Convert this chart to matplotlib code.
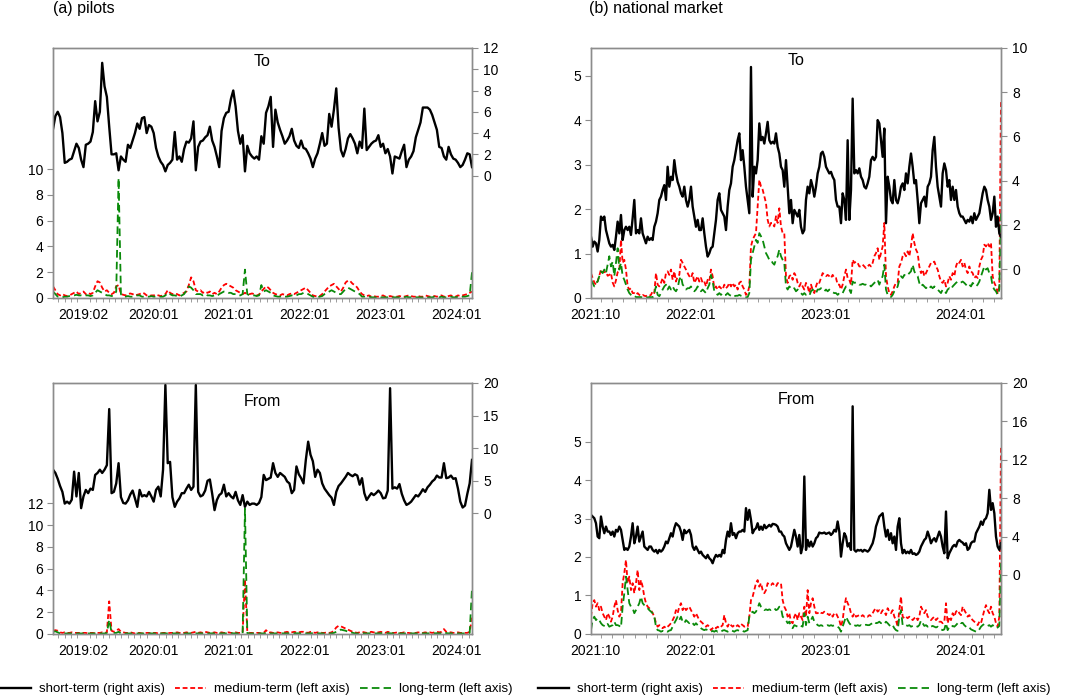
import matplotlib.pyplot as plt
import numpy as np
from matplotlib.lines import Line2D
from matplotlib.ticker import MultipleLocator

plt.rcParams["font.family"] = ["Liberation Sans", "DejaVu Sans"]
plt.rcParams["lines.scale_dashes"] = False

FRAME = "#8c8c8c"
RED = "#ff0000"
GREEN = "#0a8a0a"

# first / last observation, decimal years
pilots_span = (2018.68, 2024.21)
national_span = (2021.26, 2024.30)

pilots_xticks = [2019 + 1 / 12, 2020, 2021, 2022, 2023, 2024]
pilots_xlabels = ["2019:02", "2020:01", "2021:01", "2022:01", "2023:01", "2024:01"]
national_xticks = [2021.29, 2022, 2023, 2024]
national_xlabels = ["2021:10", "2022:01", "2023:01", "2024:01"]

# ---- (a) pilots, To ----
pilots_to_short = [
    4.4, 5.6, 6.0, 5.5, 4.0, 1.2, 1.3, 1.5, 1.6, 2.3,
    3.0, 2.6, 1.5, 0.8, 2.9, 3.0, 3.2, 4.1, 7.0, 5.1,
    6.0, 10.6, 8.4, 7.4, 4.6, 2.0, 2.0, 2.1, 0.5, 1.8,
    1.5, 1.3, 2.9, 2.6, 3.3, 4.0, 4.9, 4.4, 5.4, 5.5,
    4.0, 4.75, 4.6, 4.0, 2.6, 1.8, 1.3, 1.0, 0.4, 1.0,
    1.2, 1.5, 4.1, 1.5, 1.8, 1.3, 2.5, 3.2, 3.1, 3.5,
    5.1, 0.5, 2.7, 3.2, 3.3, 3.6, 3.8, 4.6, 3.3, 2.7,
    1.8, 0.8, 4.2, 5.4, 5.9, 6.0, 7.2, 8.0, 6.5, 4.2,
    3.0, 3.8, 0.4, 2.8, 2.1, 1.8, 1.6, 1.8, 1.5, 3.7,
    3.0, 5.9, 6.5, 7.4, 2.7, 6.2, 5.0, 4.3, 3.7, 3.0,
    3.3, 3.7, 4.4, 3.3, 2.8, 2.6, 3.3, 2.6, 2.5, 2.1,
    1.6, 0.8, 1.6, 2.1, 3.0, 4.0, 2.8, 3.0, 5.8, 4.6,
    6.2, 8.2, 4.5, 2.4, 1.8, 2.5, 3.5, 3.9, 3.5, 3.0,
    2.1, 3.2, 2.6, 6.3, 2.4, 2.7, 3.0, 3.2, 3.3, 3.8,
    2.7, 3.0, 2.1, 2.5, 1.8, 0.2, 1.8, 1.7, 1.6, 2.3,
    2.9, 0.8, 1.5, 1.8, 2.3, 3.6, 4.3, 5.0, 6.4, 6.4,
    6.4, 6.2, 5.7, 5.0, 4.3, 2.7, 2.6, 1.8, 1.5, 2.7,
    2.0, 1.6, 1.5, 1.2, 0.8, 1.0, 1.5, 2.1, 2.0, 0.8,
]
pilots_to_medium = [
    0.9, 0.6, 0.3, 0.2, 0.3, 0.2, 0.15, 0.2, 0.3, 0.4,
    0.5, 0.3, 0.4, 0.5, 0.3, 0.4, 0.3, 0.4, 0.9, 1.3,
    1.2, 0.8, 0.5, 0.6, 0.4, 0.3, 0.4, 0.9, 1.0, 0.3,
    0.25, 0.2, 0.3, 0.35, 0.3, 0.2, 0.25, 0.3, 0.4, 0.35,
    0.2, 0.15, 0.2, 0.2, 0.25, 0.2, 0.15, 0.2, 0.3, 0.6,
    0.4, 0.3, 0.35, 0.3, 0.2, 0.3, 0.4, 0.5, 1.0, 1.6,
    1.3, 0.6, 0.5, 0.6, 0.4, 0.5, 0.4, 0.5, 0.3, 0.4,
    0.3, 0.5, 0.8, 1.0, 1.1, 1.0, 0.9, 0.8, 0.6, 0.5,
    0.4, 0.3, 0.4, 0.3, 0.3, 0.35, 0.3, 0.2, 0.25, 0.5,
    0.7, 0.9, 0.8, 0.6, 0.4, 0.3, 0.25, 0.2, 0.3, 0.25,
    0.2, 0.3, 0.35, 0.3, 0.4, 0.5, 0.6, 0.7, 0.8, 0.6,
    0.4, 0.2, 0.15, 0.1, 0.15, 0.3, 0.5, 0.7, 0.9, 1.0,
    1.1, 0.9, 0.7, 0.5, 0.8, 1.2, 1.35, 1.3, 1.1, 1.0,
    0.8, 0.5, 0.3, 0.2, 0.15, 0.2, 0.1, 0.15, 0.1, 0.1,
    0.15, 0.2, 0.1, 0.1, 0.15, 0.1, 0.1, 0.1, 0.15, 0.1,
    0.1, 0.15, 0.2, 0.15, 0.1, 0.1, 0.15, 0.1, 0.1, 0.2,
    0.15, 0.1, 0.1, 0.15, 0.1, 0.15, 0.2, 0.1, 0.1, 0.15,
    0.2, 0.1, 0.1, 0.2, 0.15, 0.2, 0.25, 0.3, 0.4, 0.5,
]
pilots_to_long = [
    0.5, 0.3, 0.1, 0.1, 0.05, 0.1, 0.1, 0.15, 0.2, 0.2,
    0.25, 0.2, 0.2, 0.15, 0.2, 0.2, 0.15, 0.2, 0.4, 0.6,
    0.5, 0.4, 0.3, 0.2, 0.2, 0.15, 0.2, 0.5, 9.3, 0.3,
    0.1, 0.1, 0.15, 0.1, 0.1, 0.15, 0.2, 0.2, 0.1, 0.1,
    0.1, 0.1, 0.15, 0.1, 0.1, 0.1, 0.1, 0.1, 0.2, 0.4,
    0.3, 0.2, 0.2, 0.15, 0.1, 0.2, 0.3, 0.6, 0.9, 0.8,
    0.6, 0.3, 0.3, 0.3, 0.2, 0.3, 0.2, 0.2, 0.15, 0.2,
    0.15, 0.3, 0.4, 0.5, 0.5, 0.4, 0.4, 0.3, 0.3, 0.2,
    0.2, 0.3, 2.2, 0.3, 0.2, 0.2, 0.2, 0.15, 0.2, 1.0,
    0.5, 0.6, 0.5, 0.4, 0.2, 0.15, 0.1, 0.1, 0.15, 0.1,
    0.1, 0.15, 0.2, 0.15, 0.2, 0.3, 0.3, 0.4, 0.4, 0.3,
    0.2, 0.1, 0.05, 0.05, 0.1, 0.15, 0.3, 0.4, 0.5, 0.6,
    0.5, 0.4, 0.3, 0.3, 0.5, 0.7, 0.8, 0.7, 0.6, 0.5,
    0.4, 0.3, 0.1, 0.1, 0.05, 0.1, 0.05, 0.05, 0.05, 0.1,
    0.05, 0.05, 0.05, 0.05, 0.1, 0.05, 0.05, 0.05, 0.05, 0.05,
    0.05, 0.1, 0.05, 0.05, 0.05, 0.05, 0.05, 0.05, 0.05, 0.1,
    0.05, 0.05, 0.05, 0.1, 0.05, 0.05, 0.1, 0.05, 0.05, 0.05,
    0.1, 0.05, 0.05, 0.1, 0.05, 0.1, 0.1, 0.15, 0.2, 2.0,
]

# ---- (a) pilots, From ----
pilots_from_short = [
    6.7, 6.2, 5.3, 4.2, 3.3, 1.5, 1.8, 1.5, 2.1, 6.4,
    2.6, 6.2, 0.8, 2.6, 3.6, 3.1, 3.8, 3.6, 5.9, 6.2,
    6.7, 6.2, 6.7, 7.4, 16.0, 3.1, 3.3, 4.6, 7.7, 2.5,
    1.6, 1.5, 2.0, 2.9, 3.5, 2.3, 1.0, 3.6, 2.6, 2.8,
    2.6, 3.3, 2.6, 1.8, 3.6, 4.1, 2.6, 6.7, 19.7, 7.7,
    7.9, 2.5, 1.0, 1.8, 2.3, 3.1, 3.1, 3.8, 4.4, 3.6,
    4.1, 19.7, 3.3, 2.6, 2.8, 3.5, 5.0, 5.2, 3.0, 0.5,
    2.05, 2.8, 3.1, 4.4, 2.6, 3.1, 2.6, 2.3, 3.3, 2.0,
    1.3, 2.8, 1.0, 1.8, 1.3, 1.5, 1.5, 1.3, 1.6, 2.5,
    5.9, 5.1, 5.3, 5.5, 7.7, 6.2, 5.6, 6.2, 5.9, 5.6,
    4.9, 4.6, 3.1, 3.6, 7.2, 6.0, 5.4, 4.6, 8.2, 11.0,
    9.0, 8.0, 5.6, 6.7, 6.2, 4.6, 3.8, 3.3, 2.8, 2.4,
    1.3, 3.3, 4.2, 4.6, 5.1, 5.6, 6.2, 5.9, 5.7, 6.0,
    5.8, 4.4, 5.4, 3.1, 2.05, 2.6, 3.1, 2.8, 3.1, 3.5,
    3.1, 2.3, 2.4, 3.5, 19.2, 3.8, 4.0, 3.8, 4.5, 3.0,
    2.0, 1.3, 1.5, 1.8, 2.3, 2.8, 2.6, 3.1, 3.7, 3.3,
    4.0, 4.4, 4.9, 5.2, 5.8, 5.5, 5.5, 7.7, 5.4, 5.5,
    5.8, 5.3, 5.4, 3.8, 1.8, 0.9, 1.2, 3.0, 4.6, 8.2,
]
pilots_from_medium = [
    0.3, 0.35, 0.3, 0.15, 0.1, 0.15, 0.1, 0.1, 0.15, 0.1,
    0.1, 0.1, 0.05, 0.1, 0.1, 0.05, 0.1, 0.1, 0.05, 0.1,
    0.1, 0.15, 0.1, 0.15, 3.0, 0.3, 0.2, 0.3, 0.45, 0.2,
    0.15, 0.1, 0.1, 0.15, 0.1, 0.05, 0.1, 0.1, 0.05, 0.05,
    0.1, 0.1, 0.05, 0.1, 0.1, 0.05, 0.05, 0.1, 0.1, 0.05,
    0.1, 0.1, 0.1, 0.15, 0.1, 0.05, 0.1, 0.15, 0.1, 0.1,
    0.15, 0.2, 0.1, 0.15, 0.1, 0.2, 0.15, 0.1, 0.1, 0.15,
    0.1, 0.1, 0.15, 0.1, 0.1, 0.15, 0.1, 0.1, 0.15, 0.1,
    0.1, 0.15, 5.0, 0.2, 0.1, 0.1, 0.05, 0.1, 0.1, 0.05,
    0.1, 0.35, 0.1, 0.15, 0.1, 0.1, 0.15, 0.1, 0.1, 0.15,
    0.2, 0.1, 0.15, 0.2, 0.15, 0.15, 0.2, 0.2, 0.15, 0.1,
    0.2, 0.15, 0.1, 0.15, 0.15, 0.1, 0.1, 0.15, 0.1, 0.15,
    0.3, 0.6, 0.75, 0.7, 0.6, 0.5, 0.4, 0.3, 0.2, 0.15,
    0.1, 0.15, 0.2, 0.15, 0.1, 0.15, 0.2, 0.15, 0.1, 0.15,
    0.2, 0.15, 0.1, 0.2, 0.15, 0.1, 0.1, 0.15, 0.1, 0.1,
    0.15, 0.1, 0.1, 0.05, 0.1, 0.1, 0.15, 0.1, 0.1, 0.15,
    0.1, 0.15, 0.1, 0.15, 0.2, 0.15, 0.2, 0.45, 0.2, 0.15,
    0.15, 0.1, 0.1, 0.15, 0.1, 0.1, 0.1, 0.1, 0.2, 1.5,
]
pilots_from_long = [
    0.2, 0.25, 0.15, 0.05, 0.05, 0.05, 0.05, 0.05, 0.05, 0.05,
    0.05, 0.05, 0.04, 0.05, 0.05, 0.04, 0.05, 0.05, 0.04, 0.05,
    0.05, 0.05, 0.05, 0.1, 1.3, 0.15, 0.1, 0.1, 0.2, 0.05,
    0.05, 0.04, 0.05, 0.05, 0.04, 0.05, 0.05, 0.04, 0.05, 0.05,
    0.04, 0.05, 0.05, 0.04, 0.05, 0.05, 0.04, 0.05, 0.05, 0.04,
    0.05, 0.05, 0.04, 0.05, 0.05, 0.04, 0.05, 0.05, 0.05, 0.05,
    0.05, 0.06, 0.05, 0.05, 0.05, 0.06, 0.05, 0.05, 0.05, 0.05,
    0.05, 0.05, 0.05, 0.05, 0.04, 0.05, 0.05, 0.05, 0.05, 0.05,
    0.05, 0.06, 11.5, 0.08, 0.05, 0.05, 0.04, 0.05, 0.05, 0.04,
    0.05, 0.1, 0.05, 0.05, 0.05, 0.05, 0.06, 0.05, 0.05, 0.06,
    0.06, 0.05, 0.06, 0.07, 0.06, 0.06, 0.07, 0.07, 0.06, 0.05,
    0.07, 0.06, 0.05, 0.06, 0.06, 0.05, 0.05, 0.06, 0.05, 0.06,
    0.1, 0.2, 0.35, 0.4, 0.35, 0.3, 0.2, 0.15, 0.1, 0.06,
    0.05, 0.06, 0.07, 0.06, 0.05, 0.06, 0.07, 0.06, 0.05, 0.06,
    0.07, 0.06, 0.05, 0.07, 0.06, 0.05, 0.05, 0.06, 0.05, 0.05,
    0.05, 0.05, 0.04, 0.04, 0.05, 0.05, 0.05, 0.05, 0.05, 0.06,
    0.05, 0.06, 0.05, 0.06, 0.07, 0.06, 0.08, 0.15, 0.08, 0.06,
    0.06, 0.05, 0.05, 0.06, 0.05, 0.05, 0.05, 0.05, 0.1, 4.2,
]

# ---- (b) national market, To ----
national_to_short = [
    1.47, 1.02, 1.25, 1.17, 0.8, 1.32, 2.38, 2.23, 2.38, 1.77,
    1.47, 1.17, 1.02, 1.1, 0.87, 1.47, 2.15, 1.62, 2.45, 1.32,
    1.77, 1.92, 1.77, 1.92, 1.55, 2.3, 3.13, 1.62, 1.77, 1.62,
    2.3, 1.62, 1.4, 1.17, 1.47, 1.32, 1.4, 1.32, 1.92, 2.15,
    2.53, 3.13, 3.28, 3.58, 3.8, 3.13, 4.63, 3.73, 4.18, 4.03,
    4.93, 4.33, 3.95, 3.73, 3.43, 3.28, 3.73, 3.13, 2.83, 3.13,
    3.73, 2.83, 2.38, 1.92, 2.23, 1.77, 1.77, 2.3, 1.62, 1.02,
    0.57, 0.72, 0.95, 1.02, 1.62, 2.23, 3.13, 3.43, 2.68, 2.53,
    2.38, 1.77, 2.83, 3.58, 3.88, 4.63, 4.93, 5.38, 5.83, 6.14,
    4.93, 5.38, 4.63, 3.73, 3.13, 2.53, 9.14, 3.28, 4.63, 4.33,
    4.93, 6.59, 5.83, 5.98, 5.68, 6.14, 6.66, 5.83, 5.68, 5.76,
    5.68, 6.14, 5.53, 5.23, 4.63, 4.48, 3.73, 4.93, 3.73, 2.53,
    3.13, 2.08, 2.68, 2.53, 2.38, 2.68, 1.92, 1.62, 1.77, 3.13,
    3.73, 3.43, 4.03, 3.73, 3.28, 3.73, 4.33, 4.63, 5.23, 5.31,
    5.08, 4.63, 4.48, 4.33, 4.4, 4.18, 4.03, 3.13, 2.83, 2.83,
    2.08, 3.43, 3.13, 2.23, 5.83, 2.23, 3.58, 7.71, 4.33, 4.48,
    4.33, 4.56, 4.18, 4.03, 3.73, 3.65, 3.88, 4.18, 4.93, 5.08,
    4.93, 5.08, 6.74, 6.59, 5.83, 5.08, 6.36, 2.08, 4.18, 3.73,
    3.13, 2.98, 4.03, 3.13, 2.98, 3.28, 3.73, 3.88, 3.58, 4.33,
    3.88, 4.63, 5.23, 4.63, 3.88, 4.03, 3.13, 2.08, 2.98, 3.13,
    3.28, 2.83, 3.73, 3.88, 4.18, 5.38, 5.98, 4.63, 3.73, 3.28,
    2.83, 4.33, 4.78, 4.48, 3.73, 4.03, 3.13, 3.73, 3.13, 3.58,
    2.83, 2.53, 2.38, 2.38, 2.23, 2.08, 2.23, 2.15, 2.38, 2.08,
    2.53, 2.23, 2.38, 2.53, 2.98, 3.43, 3.73, 3.58, 3.13, 2.83,
    2.23, 2.53, 3.28, 1.92, 2.38, 1.62, 1.47,
]
national_to_medium = [
    0.56, 0.45, 0.35, 0.3, 0.38, 0.5, 0.64, 0.58, 0.58, 0.6,
    0.5, 0.52, 0.56, 0.35, 0.26, 0.4, 0.58, 0.6, 1.31,
    0.79, 0.86, 0.64, 0.26, 0.19, 0.22, 0.11, 0.11, 0.07, 0.11,
    0.07, 0.05, 0.07, 0.05, 0.04, 0.07, 0.05, 0.07, 0.15, 0.11,
    0.56, 0.3, 0.26, 0.34, 0.45, 0.34, 0.56, 0.6, 0.52, 0.64,
    0.41, 0.6, 0.37, 0.49, 0.52, 0.86, 0.79, 0.71, 0.64, 0.56,
    0.49, 0.45, 0.56, 0.34, 0.41, 0.49, 0.37, 0.45, 0.34, 0.37,
    0.26, 0.41, 0.37, 0.64, 0.49, 0.22, 0.26, 0.19, 0.26, 0.22,
    0.19, 0.3, 0.22, 0.26, 0.34, 0.26, 0.34, 0.26, 0.3, 0.19,
    0.34, 0.37, 0.26, 0.19, 0.07, 0.11, 0.26, 1.16, 1.31, 1.39,
    1.46, 2.06, 2.66, 2.51, 2.44, 2.29, 2.14, 1.76, 1.61, 1.69,
    1.69, 1.61, 1.84, 1.69, 2.02, 1.61, 1.46, 1.46, 0.49, 0.34,
    0.49, 0.52, 0.41, 0.56, 0.49, 0.34, 0.26, 0.34, 0.26, 0.19,
    0.34, 0.26, 0.11, 0.3, 0.19, 0.11, 0.26, 0.37, 0.34, 0.45,
    0.56, 0.52, 0.49, 0.52, 0.49, 0.45, 0.52, 0.45, 0.45, 0.3,
    0.3, 0.19, 0.3, 0.49, 0.64, 0.45, 0.41, 0.3, 0.86, 0.79,
    0.82, 0.79, 0.71, 0.71, 0.75, 0.71, 0.67, 0.71, 0.75, 0.71,
    0.79, 0.94, 1.01, 1.12, 0.86, 1.01, 1.16, 1.69, 0.49, 0.26,
    0.11, 0.07, 0.15, 0.26, 0.34, 0.34, 0.71, 0.79, 0.94, 1.01,
    0.94, 1.05, 0.94, 1.16, 1.46, 1.24, 1.09, 1.01, 0.71, 0.56,
    0.64, 0.49, 0.56, 0.64, 0.71, 0.79, 0.79, 0.82, 0.71, 0.64,
    0.49, 0.37, 0.34, 0.41, 0.26, 0.34, 0.49, 0.41, 0.56, 0.49,
    0.71, 0.82, 0.79, 0.86, 0.71, 0.79, 0.64, 0.56, 0.71, 0.6,
    0.56, 0.45, 0.49, 0.45, 0.71, 0.86, 0.94, 1.2, 1.16, 1.24,
    1.16, 1.24, 0.49, 0.34, 0.26, 0.11, 0.26, 4.46,
]
national_to_long = [
    0.41, 0.34, 0.26, 0.34, 0.37, 0.49, 0.6, 0.56, 0.64, 0.56,
    0.75, 0.94, 0.71, 0.82, 0.49, 0.79, 1.12, 0.64, 0.79, 0.49,
    0.41, 0.3, 0.19, 0.11, 0.07, 0.04, 0.05, 0.02, 0.02, 0.02,
    0.02, 0.01, 0.02, 0.02, 0.01, 0.02, 0.02, 0.01, 0.11, 0.26,
    0.07, 0.04, 0.11, 0.19, 0.26, 0.3, 0.19, 0.26, 0.19, 0.26,
    0.19, 0.15, 0.22, 0.41, 0.49, 0.3, 0.26, 0.19, 0.22, 0.22,
    0.26, 0.19, 0.15, 0.19, 0.26, 0.19, 0.15, 0.19, 0.15, 0.11,
    0.22, 0.3, 0.52, 0.37, 0.15, 0.11, 0.07, 0.11, 0.07, 0.11,
    0.07, 0.07, 0.11, 0.07, 0.05, 0.07, 0.04, 0.05, 0.05, 0.07,
    0.05, 0.04, 0.02, 0.015, 0.02, 0.11, 0.86, 1.01, 1.16, 1.31,
    1.24, 1.46, 1.39, 1.31, 1.16, 1.01, 0.94, 0.86, 0.86, 0.79,
    0.75, 0.86, 0.94, 1.09, 0.94, 0.86, 0.79, 0.26, 0.19, 0.26,
    0.22, 0.19, 0.22, 0.15, 0.19, 0.15, 0.11, 0.07, 0.11, 0.07,
    0.07, 0.05, 0.15, 0.19, 0.15, 0.11, 0.19, 0.19, 0.22, 0.19,
    0.15, 0.19, 0.15, 0.19, 0.15, 0.13, 0.11, 0.11, 0.07, 0.11,
    0.09, 0.11, 0.19, 0.26, 0.22, 0.19, 0.11, 0.37, 0.34, 0.35,
    0.34, 0.3, 0.3, 0.32, 0.3, 0.3, 0.28, 0.3, 0.26, 0.3,
    0.34, 0.37, 0.41, 0.3, 0.41, 0.49, 0.75, 0.19, 0.07, 0.04,
    0.02, 0.07, 0.15, 0.19, 0.26, 0.41, 0.49, 0.45, 0.52, 0.49,
    0.52, 0.56, 0.6, 0.75, 0.6, 0.52, 0.49, 0.34, 0.26, 0.3,
    0.26, 0.22, 0.26, 0.22, 0.26, 0.22, 0.26, 0.22, 0.19, 0.15,
    0.11, 0.19, 0.15, 0.11, 0.19, 0.22, 0.19, 0.26, 0.3, 0.34,
    0.37, 0.34, 0.35, 0.37, 0.34, 0.3, 0.26, 0.3, 0.26, 0.34,
    0.3, 0.26, 0.3, 0.37, 0.49, 0.6, 0.71, 0.64, 0.67, 0.56,
    0.49, 0.26, 0.19, 0.15, 0.07, 0.19, 1.91,
]

# ---- (b) national market, From ----
national_from_short = [
    6.26, 6.09, 5.91, 5.39, 4.0, 3.83, 6.09, 5.04, 4.35, 5.04,
    4.52, 4.52, 4.17, 4.52, 4.0, 4.7, 4.52, 5.04, 4.7, 3.65,
    2.61, 2.78, 2.61, 2.96, 4.0, 5.39, 3.3, 4.0, 5.04, 3.48,
    4.0, 4.52, 2.96, 2.78, 2.61, 2.96, 2.96, 2.61, 2.43, 2.61,
    2.26, 2.61, 2.43, 2.61, 2.96, 3.48, 3.3, 3.83, 4.35, 4.0,
    4.87, 5.39, 5.22, 5.04, 4.52, 3.65, 4.7, 4.35, 4.52, 4.7,
    4.17, 2.96, 2.61, 2.96, 2.61, 2.26, 2.43, 2.09, 1.91, 1.74,
    2.09, 1.74, 1.57, 1.22, 1.74, 2.09, 1.91, 2.09, 1.91, 2.61,
    2.26, 3.65, 4.52, 4.0, 5.39, 4.17, 4.35, 3.83, 4.35, 4.52,
    4.52, 4.7, 4.52, 6.96, 5.74, 6.78, 5.74, 4.35, 4.7, 4.87,
    5.39, 4.7, 5.04, 4.7, 5.22, 4.87, 5.04, 5.22, 5.04, 5.32,
    5.29, 5.22, 5.04, 4.52, 4.52, 4.17, 4.0, 3.3, 2.96, 2.61,
    2.96, 3.83, 4.7, 4.0, 2.96, 4.17, 2.26, 2.96, 10.26, 2.61,
    3.65, 2.96, 3.48, 2.96, 3.3, 3.83, 4.0, 4.42, 4.35, 4.35,
    4.42, 4.28, 4.35, 4.42, 4.17, 4.35, 4.7, 4.52, 5.57, 4.52,
    1.91, 3.3, 4.35, 4.0, 2.96, 3.3, 2.61, 17.57, 2.61, 2.43,
    2.61, 2.54, 2.61, 2.43, 2.61, 2.54, 2.43, 2.61, 2.96, 3.3,
    4.0, 5.04, 5.57, 6.09, 6.26, 6.43, 5.04, 4.0, 4.7, 3.65,
    4.35, 3.3, 4.0, 2.61, 5.04, 5.91, 3.3, 2.26, 2.61, 2.26,
    2.43, 2.26, 2.61, 2.19, 2.26, 2.09, 2.19, 2.43, 2.96, 3.3,
    3.65, 3.83, 4.52, 4.0, 3.3, 3.65, 3.83, 3.48, 4.0, 4.52,
    4.0, 2.96, 2.26, 6.61, 1.74, 2.26, 2.61, 2.96, 3.13, 2.96,
    3.48, 3.65, 3.48, 3.37, 3.13, 3.3, 2.61, 2.78, 3.3, 3.48,
    3.48, 4.35, 4.7, 5.04, 5.57, 5.22, 5.74, 5.91, 6.43, 8.87,
    6.78, 7.48, 6.43, 4.0, 2.96, 2.61, 3.3,
]
national_from_medium = [
    0.45, 0.8, 0.88, 0.71, 0.8, 0.62, 0.71, 0.54, 0.45, 0.36,
    0.54, 0.45, 0.32, 0.45, 0.71, 0.88, 0.62, 0.45, 0.54, 1.32,
    1.58, 1.92, 1.32, 1.49, 1.14, 1.32, 1.06, 1.32, 1.66, 1.14,
    1.4, 1.23, 0.97, 0.8, 0.71, 0.67, 0.62, 0.54, 0.45, 0.28,
    0.19, 0.23, 0.19, 0.15, 0.19, 0.15, 0.19, 0.23, 0.28, 0.36,
    0.45, 0.62, 0.54, 0.71, 0.8, 0.62, 0.71, 0.62, 0.67, 0.71,
    0.62, 0.54, 0.45, 0.54, 0.45, 0.36, 0.32, 0.28, 0.23, 0.19,
    0.23, 0.19, 0.1, 0.15, 0.19, 0.15, 0.19, 0.15, 0.19, 0.23,
    0.49, 0.28, 0.19, 0.28, 0.23, 0.19, 0.23, 0.19, 0.23, 0.19,
    0.26, 0.23, 0.19, 0.21, 0.19, 0.45, 0.88, 0.97, 1.14, 1.32,
    1.4, 1.23, 1.32, 1.14, 1.06, 1.14, 1.32, 1.27, 1.27, 1.32,
    1.27, 1.23, 1.32, 1.32, 1.32, 0.88, 0.71, 0.62, 0.45, 0.54,
    0.32, 0.28, 0.45, 0.54, 0.36, 0.54, 0.45, 0.36, 0.71, 0.45,
    1.14, 0.54, 0.8, 0.93, 0.71, 0.54, 0.54, 0.58, 0.55, 0.54,
    0.58, 0.54, 0.52, 0.49, 0.54, 0.45, 0.54, 0.54, 0.45, 0.36,
    0.19, 0.36, 0.71, 0.93, 0.8, 0.71, 0.54, 0.45, 0.54, 0.45,
    0.47, 0.49, 0.45, 0.49, 0.45, 0.47, 0.45, 0.49, 0.47, 0.54,
    0.62, 0.67, 0.58, 0.62, 0.54, 0.62, 0.58, 0.49, 0.67, 0.58,
    0.54, 0.62, 0.45, 0.36, 0.19, 0.62, 0.97, 0.45, 0.41, 0.45,
    0.41, 0.45, 0.41, 0.36, 0.41, 0.45, 0.36, 0.45, 0.71, 0.62,
    0.54, 0.62, 0.45, 0.41, 0.36, 0.41, 0.45, 0.36, 0.41, 0.32,
    0.32, 0.28, 0.32, 0.8, 0.28, 0.45, 0.36, 0.54, 0.45, 0.58,
    0.62, 0.54, 0.49, 0.71, 0.62, 0.54, 0.45, 0.49, 0.41, 0.36,
    0.32, 0.28, 0.23, 0.32, 0.28, 0.45, 0.62, 0.75, 0.62, 0.54,
    0.71, 0.54, 0.45, 0.28, 0.19, 0.45, 4.87,
]
national_from_long = [
    0.1, 0.36, 0.45, 0.36, 0.41, 0.36, 0.28, 0.23, 0.21, 0.19,
    0.26, 0.19, 0.21, 0.23, 0.32, 0.23, 0.23, 0.21, 0.17, 0.71,
    1.06, 1.49, 1.14, 0.8, 0.71, 0.67, 0.54, 0.62, 0.71, 0.8,
    0.97, 0.8, 0.75, 0.71, 0.67, 0.62, 0.58, 0.54, 0.45, 0.19,
    0.1, 0.09, 0.06, 0.08, 0.06, 0.08, 0.06, 0.09, 0.1, 0.19,
    0.28, 0.36, 0.45, 0.36, 0.45, 0.32, 0.28, 0.36, 0.32, 0.28,
    0.32, 0.28, 0.23, 0.28, 0.23, 0.19, 0.15, 0.12, 0.1, 0.12,
    0.1, 0.09, 0.06, 0.08, 0.06, 0.09, 0.06, 0.08, 0.06, 0.09,
    0.1, 0.08, 0.06, 0.09, 0.1, 0.08, 0.06, 0.09, 0.1, 0.08,
    0.1, 0.08, 0.06, 0.08, 0.1, 0.45, 0.54, 0.58, 0.54, 0.58,
    0.67, 0.8, 0.71, 0.67, 0.62, 0.64, 0.62, 0.64, 0.62, 0.64,
    0.67, 0.62, 0.64, 0.71, 0.67, 0.45, 0.41, 0.36, 0.28, 0.32,
    0.19, 0.15, 0.23, 0.21, 0.19, 0.23, 0.21, 0.19, 0.54, 0.23,
    0.45, 0.28, 0.36, 0.45, 0.32, 0.28, 0.23, 0.21, 0.23, 0.21,
    0.23, 0.21, 0.23, 0.21, 0.23, 0.21, 0.23, 0.21, 0.19, 0.15,
    0.06, 0.19, 0.32, 0.45, 0.36, 0.28, 0.23, 0.21, 0.23, 0.21,
    0.23, 0.21, 0.23, 0.21, 0.23, 0.24, 0.23, 0.23, 0.26, 0.28,
    0.32, 0.28, 0.29, 0.32, 0.28, 0.29, 0.26, 0.32, 0.28, 0.23,
    0.19, 0.23, 0.15, 0.1, 0.08, 0.45, 0.62, 0.23, 0.21, 0.23,
    0.21, 0.23, 0.19, 0.21, 0.23, 0.21, 0.19, 0.23, 0.35, 0.28,
    0.21, 0.23, 0.19, 0.23, 0.19, 0.21, 0.19, 0.17, 0.19, 0.15,
    0.12, 0.1, 0.12, 0.28, 0.1, 0.19, 0.17, 0.21, 0.19, 0.23,
    0.28, 0.32, 0.28, 0.29, 0.23, 0.19, 0.15, 0.17, 0.12, 0.1,
    0.08, 0.06, 0.06, 0.12, 0.19, 0.23, 0.26, 0.23, 0.21, 0.23,
    0.19, 0.23, 0.19, 0.15, 0.17, 0.21, 1.84,
]


def draw_panel(fig, rect, span, short, medium, long_, left_top, left_ticks,
               right_lim, right_ticks, title, title_y, xticks, xlabels):
    ax = fig.add_axes(rect)
    ax.plot(np.linspace(*span, len(medium)), medium, color=RED, lw=1.3,
            dashes=(3.5, 2))
    ax.plot(np.linspace(*span, len(long_)), long_, color=GREEN, lw=1.3,
            dashes=(5.5, 3))
    ax.set_xlim(*span)
    ax.set_ylim(0, left_top)
    ax.set_yticks(left_ticks)
    ax.set_xticks(xticks, xlabels)
    ax.xaxis.set_minor_locator(MultipleLocator(1 / 12))
    ax.tick_params(axis="x", which="major", length=0, pad=7, labelsize=10)
    ax.tick_params(axis="x", which="minor", length=3, color=FRAME)
    ax.tick_params(axis="y", direction="out", length=4, color=FRAME,
                   labelsize=10, pad=3)

    ax2 = ax.twinx()
    ax2.plot(np.linspace(*span, len(short)), short, color="black", lw=1.7)
    ax2.set_ylim(*right_lim)
    ax2.set_yticks(right_ticks)
    ax2.tick_params(axis="y", direction="out", length=4, color=FRAME,
                    labelsize=10, pad=4)
    ax2.set_xlim(*span)

    for a in (ax, ax2):
        for s in a.spines.values():
            s.set_color(FRAME)
            s.set_linewidth(1.0)

    ax2.text(0.5, title_y, title, transform=ax2.transAxes, ha="center",
             va="center", fontsize=11.5)


fig = plt.figure(figsize=(10.65, 6.98), dpi=100)

draw_panel(fig, [0.0498, 0.5731, 0.3934, 0.3582], pilots_span,
           pilots_to_short, pilots_to_medium, pilots_to_long,
           19.4, range(0, 11, 2), (-11.5, 12), range(0, 13, 2),
           "To", 0.944, pilots_xticks, pilots_xlabels)
draw_panel(fig, [0.5549, 0.5731, 0.3850, 0.3582], national_span,
           national_to_short, national_to_medium, national_to_long,
           5.63, range(0, 6), (-1.3, 10), range(0, 11, 2),
           "To", 0.948, national_xticks, national_xlabels)
draw_panel(fig, [0.0498, 0.0917, 0.3934, 0.3596], pilots_span,
           pilots_from_short, pilots_from_medium, pilots_from_long,
           23.05, range(0, 13, 2), (-18.5, 20), range(0, 21, 5),
           "From", 0.928, pilots_xticks, pilots_xlabels)
draw_panel(fig, [0.5549, 0.0917, 0.3850, 0.3596], national_span,
           national_from_short, national_from_medium, national_from_long,
           6.52, range(0, 6), (-6.15, 20), range(0, 21, 4),
           "From", 0.936, national_xticks, national_xlabels)

fig.text(53 / 1065, 1 - 8.5 / 698, "(a) pilots", ha="left", va="center",
         fontsize=11.5)
fig.text(589 / 1065, 1 - 8.5 / 698, "(b) national market", ha="left",
         va="center", fontsize=11.5)

handles = [
    Line2D([], [], color="black", lw=1.7),
    Line2D([], [], color=RED, lw=1.3, dashes=(3.5, 2)),
    Line2D([], [], color=GREEN, lw=1.3, dashes=(5.5, 3)),
]
labels = ["short-term (right axis)", "medium-term (left axis)",
          "long-term (left axis)"]
for x0 in (0.0, 538 / 1065):
    fig.legend(handles, labels, loc="center left",
               bbox_to_anchor=(x0, 1 - 689 / 698), ncol=3, frameon=False,
               fontsize=9.5, handlelength=2.35, handletextpad=0.6,
               columnspacing=0.8, borderaxespad=0, borderpad=0)

fig.savefig("out.png", dpi=100)
